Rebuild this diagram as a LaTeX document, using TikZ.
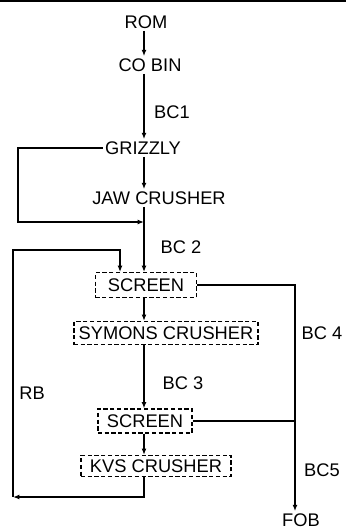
\documentclass[tikz,border=0pt]{standalone}
\usepackage{fontspec}
\setmainfont{Liberation Sans}
\usetikzlibrary{arrows.meta}
\begin{document}
\begin{tikzpicture}[x=0.25mm,y=-0.25mm,
    every node/.style={inner sep=1.5pt,font=\fontsize{13}{15}\selectfont},
    pipe/.style={line width=0.9pt},
    flow/.style={pipe,-{Latex[length=4.5pt,width=3.5pt]}},
    unit/.style={draw,dash pattern=on 3pt off 1.8pt,line width=0.8pt}]
  \useasboundingbox (0,0) rectangle (346,530);
  \draw[line width=1.6pt] (0,1) -- (346,1);

  \coordinate (spine) at (144,0);
  \coordinate (rline) at (295,0);
  \coordinate (rbin) at (120,0);
  \coordinate (byp) at (18,222);
  \coordinate (join) at (144,222);
  \coordinate (rbbot) at (13,497);
  \coordinate (rbtop) at (13,250);

  \node (rom) at (146,22) {ROM};
  \node (cobin) at (150,65) {CO BIN};
  \node (grizzly) at (143,148) {GRIZZLY};
  \node (jaw) at (159,198) {JAW CRUSHER};
  \node[unit,minimum width=25.3mm,minimum height=6.2mm] (scr1) at (146,285) {SCREEN};
  \node[unit,minimum width=46mm,minimum height=5.8mm] (symons) at (166,333) {SYMONS CRUSHER};
  \node[unit,minimum width=23.5mm,minimum height=6mm] (scr2) at (145,421) {SCREEN};
  \node[unit,minimum width=37.5mm,minimum height=5.3mm] (kvs) at (156,466) {KVS CRUSHER};
  \node (fob) at (301,520) {FOB};

  \node (bc1) at (172,112) {BC1};
  \node (bc2) at (181,247) {BC 2};
  \node (bc3) at (183,383) {BC 3};
  \node (bc4) at (322,333) {BC 4};
  \node (bc5) at (322,470) {BC5};
  \node (rb) at (32,393) {RB};

  \draw[flow] (rom.south -| spine) -- (cobin.north -| spine);
  \draw[flow] (cobin.south -| spine) -- (grizzly.north -| spine);
  \draw[flow] (grizzly.south -| spine) -- (jaw.north -| spine);
  \draw[flow] (grizzly.west) -| (byp) -- (join);
  \draw[flow] (jaw.south -| spine) -- (scr1.north -| spine);
  \draw[flow] (scr1.south -| spine) -- (symons.north -| spine);
  \draw[flow] (symons.south -| spine) -- (scr2.north -| spine);
  \draw[flow] (scr2.south -| spine) -- (kvs.north -| spine);
  \draw[flow] (kvs.south -| spine) |- (rbbot);
  \draw[flow] (rbbot) -- (rbtop) -| (scr1.north -| rbin);
  \draw[flow] (scr1.east) -| (fob.north -| rline);
  \draw[pipe] (scr2.east) -- (scr2.east -| rline);
\end{tikzpicture}
\end{document}
